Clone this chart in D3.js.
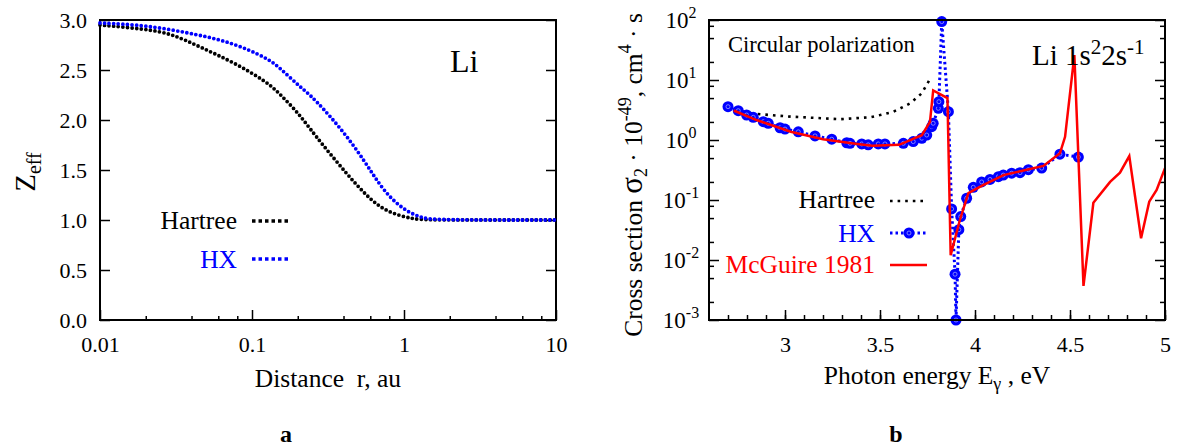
<!DOCTYPE html>
<meta charset="utf-8">
<style>
  body { margin: 0; background: #fff; }
  text { font-family: "Liberation Serif", "DejaVu Serif", serif; fill: #000; }
</style>
<svg width="1183" height="448"></svg>
<script src="https://d3js.org/d3.v7.min.js"></script>
<script>
// panel a : effective charge vs distance
var rHartree = [0.01, 0.02, 0.03, 0.0455, 0.075, 0.126, 0.155, 0.207, 0.252, 0.43, 0.62, 0.81, 1.14, 1.4, 10]
var zHartree = [2.95, 2.91, 2.86, 2.73, 2.58, 2.38, 2.25, 2.05, 1.87, 1.44, 1.18, 1.07, 1.01, 1.0, 1.0]
var rHX = [0.01, 0.02, 0.0455, 0.075, 0.126, 0.153, 0.207, 0.252, 0.42, 0.60, 0.66, 0.81, 1.05, 1.33, 1.55, 10]
var zHX = [2.97, 2.95, 2.85, 2.77, 2.62, 2.52, 2.33, 2.23, 1.85, 1.50, 1.40, 1.22, 1.08, 1.02, 1.0, 1.0]
var xTicksA = [0.01, 0.1, 1, 10]
var xLabelsA = ["0.01", "0.1", "1", "10"]
var yTicksA = [0, 0.5, 1, 1.5, 2, 2.5, 3]

// panel b : cross section vs photon energy
var eHartree = [2.70, 2.83, 3.03, 3.20, 3.29, 3.39, 3.45, 3.50, 3.57, 3.66, 3.72, 3.76]
var sHartree = [3.4, 2.75, 2.45, 2.3, 2.22, 2.33, 2.4, 2.6, 2.95, 4.1, 6.0, 10.0]
var eHX = [2.70, 2.754, 2.798, 2.833, 2.886, 2.912, 2.974, 3.0, 3.07, 3.158, 3.246, 3.325, 3.342, 3.404, 3.438,
  3.491, 3.526, 3.623, 3.675, 3.72, 3.746, 3.772, 3.78, 3.807, 3.81, 3.825, 3.86, 3.877, 3.895, 3.90, 3.915,
  3.925, 3.956, 3.991, 4.035, 4.079, 4.123, 4.149, 4.193, 4.237, 4.281, 4.351, 4.447, 4.544]
var sHX = [3.59, 3.08, 2.61, 2.39, 2.02, 1.90, 1.60, 1.52, 1.37, 1.17, 1.03, 0.90, 0.88, 0.86, 0.83,
  0.86, 0.86, 0.88, 0.94, 1.07, 1.21, 1.67, 1.90, 3.37, 4.35, 94, 2.96, 0.071, 0.0058, 0.001, 0.032,
  0.053, 0.107, 0.163, 0.20, 0.22, 0.245, 0.26, 0.28, 0.285, 0.32, 0.34, 0.58, 0.52]
var eMcGuire = [2.73, 2.85, 3.03, 3.20, 3.38, 3.46, 3.60, 3.72, 3.763, 3.78, 3.855, 3.872, 3.92, 3.965, 4.04,
  4.15, 4.255, 4.36, 4.447, 4.474, 4.523, 4.571, 4.623, 4.711, 4.763, 4.812, 4.874, 4.917, 4.956, 5.0]
var sMcGuire = [3.1, 2.15, 1.37, 1.03, 0.86, 0.80, 0.83, 1.2, 2.0, 6.7, 5.0, 0.012, 0.046, 0.13, 0.175,
  0.26, 0.31, 0.37, 0.6, 1.13, 26, 0.0037, 0.09, 0.20, 0.285, 0.54, 0.023, 0.094, 0.147, 0.34]
var xTicksB = [3, 3.5, 4, 4.5, 5]
var xLabelsB = ["3", "3.5", "4", "4.5", "5"]
var yTicksB = [1e-3, 1e-2, 1e-1, 1, 10, 100]
var yExpB = ["-3", "-2", "-1", "0", "1", "2"]

var blue = "#0000ff", red = "#ff0000"
var svg = d3.select("svg")
svg.append("rect").attr("width", 1183).attr("height", 448).attr("fill", "#fff")

function styleAxis(g, size) {
  g.select(".domain").remove()
  g.selectAll("line").attr("stroke", "#000").attr("stroke-width", 1.5)
  g.attr("font-size", size)
}

// ---------- panel a ----------
var xA = d3.scaleLog().domain([0.01, 10]).range([100, 556])
var yA = d3.scaleLinear().domain([0, 3]).range([320, 20])

var minorA = []
;[0.01, 0.1, 1].forEach(function (d) { [2, 4, 6, 8].forEach(function (m) { minorA.push(d * m) }) })

svg.append("g").attr("transform", "translate(0,320)")
  .call(d3.axisBottom(xA).tickValues(minorA).tickSize(-4).tickFormat(""))
  .call(styleAxis, 22)
svg.append("g").attr("transform", "translate(0,320)")
  .call(d3.axisBottom(xA).tickValues(xTicksA).tickSize(-10).tickPadding(16)
    .tickFormat(function (d, i) { return xLabelsA[i] }))
  .call(styleAxis, 22)
svg.append("g").attr("transform", "translate(100,0)")
  .call(d3.axisLeft(yA).tickValues(yTicksA).tickSize(-10).tickPadding(13).tickFormat(d3.format(".1f")))
  .call(styleAxis, 22)
svg.append("g").attr("transform", "translate(556,0)")
  .call(d3.axisRight(yA).tickValues(yTicksA).tickSize(-10).tickFormat(""))
  .call(styleAxis, 22)
svg.append("rect").attr("x", 100).attr("y", 20).attr("width", 456).attr("height", 300)
  .attr("fill", "none").attr("stroke", "#000").attr("stroke-width", 2)

// smooth the read-off points so the dotted curves have no kinks
var lineA = d3.line().curve(d3.curveBasis)
  .x(function (d) { return xA(d[0]) }).y(function (d) { return yA(d[1]) })

svg.append("path").datum(d3.zip(rHartree, zHartree)).attr("d", lineA)
  .attr("fill", "none").attr("stroke", "#000").attr("stroke-width", 3.8)
  .attr("stroke-linecap", "round").attr("stroke-dasharray", "0 4.6")
svg.append("path").datum(d3.zip(rHX, zHX)).attr("d", lineA)
  .attr("fill", "none").attr("stroke", blue).attr("stroke-width", 3.8)
  .attr("stroke-linecap", "round").attr("stroke-dasharray", "0 4.6")

// legend a
svg.append("text").attr("x", 237).attr("y", 229).attr("text-anchor", "end").attr("font-size", 25.5).text("Hartree")
svg.append("text").attr("x", 237).attr("y", 268).attr("text-anchor", "end").attr("font-size", 25.5)
  .style("fill", blue).text("HX")
svg.append("line").attr("x1", 252).attr("x2", 289).attr("y1", 221).attr("y2", 221)
  .attr("stroke", "#000").attr("stroke-width", 3.5).attr("stroke-dasharray", "3.5 3")
svg.append("line").attr("x1", 252).attr("x2", 289).attr("y1", 259).attr("y2", 259)
  .attr("stroke", blue).attr("stroke-width", 3.5).attr("stroke-dasharray", "3.5 3")

svg.append("text").attr("x", 450).attr("y", 72).attr("font-size", 32).text("Li")

var zl = svg.append("text").attr("transform", "translate(35,172) rotate(-90)")
  .attr("text-anchor", "middle").attr("font-size", 29)
zl.append("tspan").text("Z")
zl.append("tspan").attr("font-size", 20).attr("dy", 6).text("eff")

svg.append("text").attr("x", 328).attr("y", 387).attr("text-anchor", "middle").attr("font-size", 25.5)
  .attr("xml:space", "preserve").text("Distance  r, au")
svg.append("text").attr("x", 286).attr("y", 442).attr("text-anchor", "middle").attr("font-size", 24)
  .attr("font-weight", "bold").text("a")

// ---------- panel b ----------
var xB = d3.scaleLinear().domain([2.6, 5]).range([709, 1165])
var yB = d3.scaleLog().domain([1e-3, 100]).range([320, 20])

var minorXB = d3.range(27, 51).map(function (v) { return v / 10 })
var minorYB = []
;[1e-3, 1e-2, 1e-1, 1, 10].forEach(function (d) { [2, 5, 8].forEach(function (m) { minorYB.push(d * m) }) })

svg.append("g").attr("transform", "translate(0,320)")
  .call(d3.axisBottom(xB).tickValues(minorXB).tickSize(-5).tickFormat(""))
  .call(styleAxis, 22)
svg.append("g").attr("transform", "translate(0,320)")
  .call(d3.axisBottom(xB).tickValues(xTicksB).tickSize(-10).tickPadding(16)
    .tickFormat(function (d, i) { return xLabelsB[i] }))
  .call(styleAxis, 22)
;[[709, d3.axisLeft], [1165, d3.axisRight]].forEach(function (p) {
  svg.append("g").attr("transform", "translate(" + p[0] + ",0)")
    .call(p[1](yB).tickValues(minorYB).tickSize(-5).tickFormat(""))
    .call(styleAxis, 22)
})
var yAxB = svg.append("g").attr("transform", "translate(709,0)")
  .call(d3.axisLeft(yB).tickValues(yTicksB).tickSize(-10).tickFormat(""))
  .call(styleAxis, 23)
yAxB.selectAll(".tick text").each(function (d, i) {
  var t = d3.select(this).attr("x", -28).attr("text-anchor", "middle").attr("dy", "0.33em")
  t.append("tspan").text("10")
  t.append("tspan").attr("dy", -10).attr("font-size", 16).text(yExpB[i])
})
svg.append("g").attr("transform", "translate(1165,0)")
  .call(d3.axisRight(yB).tickValues(yTicksB).tickSize(-10).tickFormat(""))
  .call(styleAxis, 22)

svg.append("defs").append("clipPath").attr("id", "clipB").append("rect")
  .attr("x", 709).attr("y", 20).attr("width", 456).attr("height", 300)

var lineB = d3.line().x(function (d) { return xB(d[0]) }).y(function (d) { return yB(d[1]) })
var plotB = svg.append("g")

plotB.append("path").datum(d3.zip(eHartree, sHartree)).attr("d", lineB)
  .attr("fill", "none").attr("stroke", "#000").attr("stroke-width", 2.6).attr("stroke-dasharray", "2.6 5")
plotB.append("path").datum(d3.zip(eHX, sHX)).attr("d", lineB)
  .attr("fill", "none").attr("stroke", blue).attr("stroke-width", 3).attr("stroke-dasharray", "2.5 3")

function hxPoint(sel) {
  sel.append("circle").attr("r", 5.5).attr("fill", blue)
  sel.append("circle").attr("r", 2).attr("fill", "none").attr("stroke", "#9a9aff").attr("stroke-width", 0.8)
}
plotB.selectAll("g.hx").data(d3.zip(eHX, sHX)).enter().append("g").attr("class", "hx")
  .attr("transform", function (d) { return "translate(" + xB(d[0]) + "," + yB(d[1]) + ")" })
  .call(hxPoint)
plotB.append("path").datum(d3.zip(eMcGuire, sMcGuire)).attr("d", lineB).attr("clip-path", "url(#clipB)")
  .attr("fill", "none").attr("stroke", red).attr("stroke-width", 2.5).attr("stroke-linejoin", "miter")

svg.append("rect").attr("x", 709).attr("y", 20).attr("width", 456).attr("height", 300)
  .attr("fill", "none").attr("stroke", "#000").attr("stroke-width", 2)

// legend b
var legB = [["Hartree", "#000", 208], ["HX", blue, 242], ["McGuire 1981", red, 273]]
legB.forEach(function (l) {
  svg.append("text").attr("x", 875).attr("y", l[2]).attr("text-anchor", "end").attr("font-size", 25.5)
    .style("fill", l[1]).text(l[0])
})
svg.append("line").attr("x1", 890).attr("x2", 927).attr("y1", 201).attr("y2", 201)
  .attr("stroke", "#000").attr("stroke-width", 2.6).attr("stroke-dasharray", "2.6 5")
svg.append("line").attr("x1", 890).attr("x2", 927).attr("y1", 233).attr("y2", 233)
  .attr("stroke", blue).attr("stroke-width", 3).attr("stroke-dasharray", "2.5 3")
svg.append("g").attr("transform", "translate(909,233)").call(hxPoint)
svg.append("line").attr("x1", 890).attr("x2", 927).attr("y1", 265).attr("y2", 265)
  .attr("stroke", red).attr("stroke-width", 2.5)

svg.append("text").attr("x", 728).attr("y", 52).attr("font-size", 22.5).text("Circular polarization")
var li = svg.append("text").attr("x", 1032).attr("y", 65).attr("font-size", 29)
li.append("tspan").text("Li 1s")
li.append("tspan").attr("dy", -11).attr("font-size", 21).text("2")
li.append("tspan").attr("dy", 11).text("2s")
li.append("tspan").attr("dy", -11).attr("font-size", 21).text("-1")

var yl = svg.append("text").attr("transform", "translate(642,175) rotate(-90)")
  .attr("text-anchor", "middle").attr("font-size", 25.5)
yl.append("tspan").text("Cross section ")
yl.append("tspan").attr("font-size", 31).text("σ")
yl.append("tspan").attr("font-size", 18).attr("dy", 5).text("2")
yl.append("tspan").attr("dy", -5).text(" · 10")
yl.append("tspan").attr("font-size", 18).attr("dy", -11).text("-49")
yl.append("tspan").attr("dy", 11).text(",  cm")
yl.append("tspan").attr("font-size", 18).attr("dy", -11).text("4")
yl.append("tspan").attr("dy", 11).text(" · s")

var xl = svg.append("text").attr("x", 937).attr("y", 384).attr("text-anchor", "middle").attr("font-size", 25.5)
xl.append("tspan").text("Photon energy E")
xl.append("tspan").attr("font-size", 18).attr("dy", 6).text("γ")
xl.append("tspan").attr("dy", -6).text(" , eV")
svg.append("text").attr("x", 896).attr("y", 442).attr("text-anchor", "middle").attr("font-size", 24)
  .attr("font-weight", "bold").text("b")
</script>
